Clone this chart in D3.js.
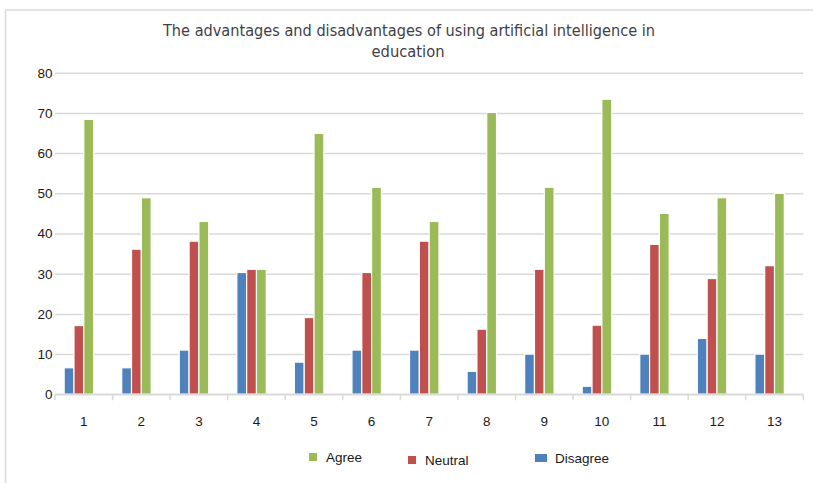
<!DOCTYPE html>
<html>
<head>
<meta charset="utf-8">
<script src="https://cdn.jsdelivr.net/npm/d3@7"></script>
<style>
  html, body { margin: 0; padding: 0; background: #fff; }
  svg { display: block; }
</style>
</head>
<body>
<svg id="chart" width="813" height="483"></svg>
<script>
const categories = ["1","2","3","4","5","6","7","8","9","10","11","12","13"];
const disagree = [6.6, 6.6, 11, 30.3, 8, 11, 11, 5.7, 10, 2, 10, 13.9, 10];
const neutral  = [17.1, 36.1, 38.1, 31.1, 19.1, 30.3, 38.1, 16.2, 31.1, 17.2, 37.3, 28.8, 32];
const agree    = [68.4, 48.9, 43, 31.1, 64.9, 51.5, 43, 70.1, 51.5, 73.4, 45, 48.9, 50];
const yTicks = [0, 10, 20, 30, 40, 50, 60, 70, 80];
const seriesNames = ["Disagree", "Neutral", "Agree"];
const seriesColors = ["#4F81BD", "#C0504D", "#9BBB59"];
const legendOrder = ["Agree", "Neutral", "Disagree"];
const titleLines = ["The advantages and disadvantages of using artificial intelligence in", "education"];

const seriesValues = [disagree, neutral, agree];

(function () {
const svg = d3.select("#chart");
const W = 813, H = 483;
const pLeft = 55, pRight = 803.3, pTop = 72.7, pBottom = 394.3;

// outer frame (only top & left visible in the reference)
svg.append("path")
  .attr("d", `M5.5,${H + 5} L5.5,10 L${W + 5},10`)
  .attr("fill", "none").attr("stroke", "#dcdcdc").attr("stroke-width", 1.6);

// title
const title = svg.append("text")
  .attr("text-anchor", "middle")
  .attr("font-family", "'Liberation Sans Narrow', 'DejaVu Sans Condensed', Arial, sans-serif")
  .attr("font-size", 16.5)
  .attr("fill", "#404048");
title.append("tspan").attr("x", 409).attr("y", 35.5).text(titleLines[0])
  .attr("textLength", 492).attr("lengthAdjust", "spacingAndGlyphs");
title.append("tspan").attr("x", 408).attr("y", 56.5).text(titleLines[1])
  .attr("textLength", 73).attr("lengthAdjust", "spacingAndGlyphs");

const y = d3.scaleLinear().domain([0, 80]).range([pBottom, pTop]);
const x0 = d3.scaleBand().domain(categories).range([pLeft, pRight])
  .paddingInner(0.318).paddingOuter(0.159);
const x1 = d3.scaleBand().domain([0, 1, 2, 3]).range([0, x0.bandwidth()]);

// gridlines
svg.append("g")
  .attr("transform", `translate(${pLeft},0)`)
  .call(d3.axisLeft(y).tickValues(yTicks).tickSize(-(pRight - pLeft)).tickFormat(""))
  .call(g => g.select(".domain").remove())
  .call(g => g.selectAll("line").attr("stroke", "#d9d9d9").attr("stroke-width", 1.5));

// y-axis labels
svg.append("g")
  .attr("transform", `translate(${pLeft - 2.5},0)`)
  .call(d3.axisLeft(y).tickValues(yTicks).tickSize(0).tickPadding(0))
  .call(g => g.select(".domain").remove())
  .call(g => g.selectAll("text")
    .attr("font-family", "Liberation Sans, Arial, sans-serif")
    .attr("font-size", 13.5).attr("fill", "#1a1a1a"));

// bars
const groups = svg.append("g").selectAll("g")
  .data(categories)
  .join("g")
  .attr("transform", d => `translate(${x0(d)},0)`);

seriesNames.forEach((name, si) => {
  groups.append("rect")
    .attr("x", x1(si))
    .attr("width", x1.bandwidth())
    .attr("y", (d, i) => y(seriesValues[si][i]))
    .attr("height", (d, i) => y(0) - y(seriesValues[si][i]))
    .attr("fill", seriesColors[si])
    .attr("stroke", "#ffffff")
    .attr("stroke-width", 1.2);
});

// baseline + category boundary ticks
const step = x0.step();
const boundaries = categories.map(c => x0(c) - step * x0.paddingInner() / 2)
  .concat([pRight]);
svg.append("line")
  .attr("x1", pLeft).attr("x2", pRight).attr("y1", pBottom).attr("y2", pBottom)
  .attr("stroke", "#d9d9d9").attr("stroke-width", 1.5);
svg.append("g").selectAll("line")
  .data(boundaries).join("line")
  .attr("x1", d => d).attr("x2", d => d)
  .attr("y1", pBottom).attr("y2", pBottom + 6)
  .attr("stroke", "#d9d9d9").attr("stroke-width", 1.5);

// x labels
svg.append("g")
  .attr("transform", `translate(0,${pBottom})`)
  .call(d3.axisBottom(x0).tickSize(0).tickPadding(22))
  .call(g => g.select(".domain").remove())
  .call(g => g.selectAll("text")
    .attr("font-family", "Liberation Sans, Arial, sans-serif")
    .attr("font-size", 13.5).attr("fill", "#1a1a1a"));

// legend
const legendX = [309, 408, 535];
const legend = svg.append("g").selectAll("g")
  .data(legendOrder).join("g")
  .attr("transform", (d, i) => `translate(${legendX[i]},${[457, 460, 458][i]})`);
legend.append("rect")
  .attr("x", 0).attr("y", -4)
  .attr("width", (d, i) => i === 2 ? 12 : 8).attr("height", 8)
  .attr("fill", d => seriesColors[seriesNames.indexOf(d)]);
legend.append("text")
  .attr("x", (d, i) => i === 2 ? 20 : 17).attr("y", 0).attr("dy", "0.35em")
  .attr("font-family", "Liberation Sans, Arial, sans-serif")
  .attr("font-size", 13.5).attr("fill", "#1a1a1a")
  .text(d => d);
})();
</script>
</body>
</html>
